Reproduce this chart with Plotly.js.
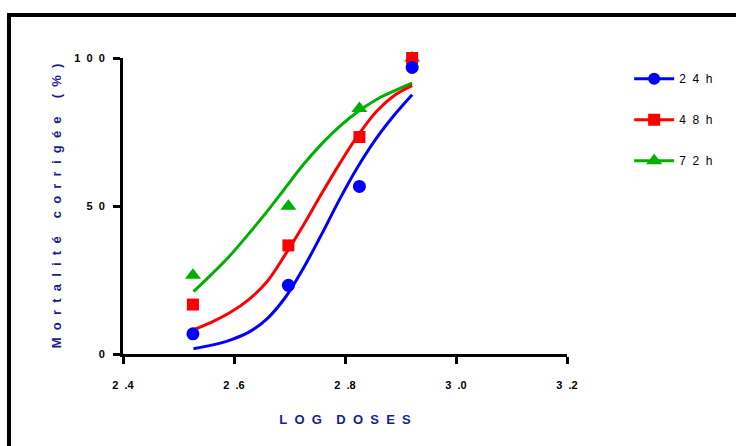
<!DOCTYPE html>
<html>
<head>
<meta charset="utf-8">
<script src="https://cdn.plot.ly/plotly-3.0.1.min.js"></script>
<style>
  html, body { margin: 0; padding: 0; background: #fff; }
  #wrap { position: relative; width: 736px; height: 446px; overflow: hidden; }
  #chart { position: absolute; left: 0; top: 0; width: 736px; height: 446px; }
  #frame { position: absolute; left: 7px; top: 13px; width: 760px; height: 460px;
           border-left: 4px solid #000; border-top: 4px solid #000; pointer-events: none; }
</style>
</head>
<body>
<div id="wrap">
  <div id="chart"></div>
  <div id="frame"></div>
</div>
<script>
// Observed points (log dose, corrected mortality %)
const logDoses = [2.526, 2.698, 2.826, 2.921];
const mort24 = [6.8, 23.2, 56.6, 96.8];
const mort48 = [16.7, 36.7, 73.3, 100];
const mort72 = [26.6, 49.9, 82.9, 100];

// Fitted curves
const curveX  = [2.527, 2.56, 2.593, 2.626, 2.659, 2.692, 2.725, 2.758, 2.791, 2.824, 2.857, 2.89, 2.921];
const curve24 = [1.8, 3.0, 4.7, 7.3, 11.8, 19.0, 29.0, 40.5, 52.5, 63.5, 73.0, 81.0, 87.6];
const curve48 = [8.2, 10.8, 14.0, 18.3, 24.3, 33.5, 43.5, 54.2, 64.5, 74.0, 82.0, 87.5, 90.7];
const curve72 = [21.1, 27.0, 33.3, 40.5, 48.0, 56.0, 64.0, 71.0, 77.0, 82.0, 86.0, 89.0, 91.5];

const seriesNames = ['2\u00A0\u00A04\u00A0\u00A0h', '4\u00A0\u00A08\u00A0\u00A0h', '7\u00A0\u00A02\u00A0\u00A0h'];
const xTickVals = [2.4, 2.6, 2.8, 3.0, 3.2];
const xTickText = ['2\u00A0\u00A0.4', '2\u00A0\u00A0.6', '2\u00A0\u00A0.8', '3\u00A0\u00A0.0', '3\u00A0\u00A0.2'];
const yTickVals = [0, 50, 100];
const yTickText = ['0', '5\u00A0\u00A00', '1\u00A0\u00A00\u00A0\u00A00'];

const colors = {c24: '#0000ff', c48: '#ff0000', c72: '#00b000'};

// letter-spaced text: letters separated by 2 NBSP, words by extra NBSPs
function spaced(s, wordGap) {
  return s.split(' ').map(w => w.split('').join('\u00A0\u00A0')).join('\u00A0'.repeat(wordGap));
}

const FONT = 'Liberation Sans, Arial, sans-serif';

const traces = [
  {x: curveX, y: curve72, mode: 'lines', line: {color: colors.c72, width: 3, shape: 'spline', smoothing: 1}, showlegend: false, hoverinfo: 'skip'},
  {x: curveX, y: curve48, mode: 'lines', line: {color: colors.c48, width: 3, shape: 'spline', smoothing: 1}, showlegend: false, hoverinfo: 'skip'},
  {x: curveX, y: curve24, mode: 'lines', line: {color: colors.c24, width: 3, shape: 'spline', smoothing: 1}, showlegend: false, hoverinfo: 'skip'},
  {x: logDoses, y: mort72, mode: 'markers', showlegend: false,
   marker: {symbol: 'triangle-up', size: 14, color: colors.c72}, cliponaxis: false},
  {x: logDoses, y: mort48, mode: 'markers', showlegend: false,
   marker: {symbol: 'square', size: 12, color: colors.c48}, cliponaxis: false},
  {x: logDoses, y: mort24, mode: 'markers', showlegend: false,
   marker: {symbol: 'circle', size: 13, color: colors.c24}, cliponaxis: false},
  // legend entries (line + marker)
  {x: [null], y: [null], name: seriesNames[0], mode: 'lines+markers', legendgroup: 'g24',
   marker: {symbol: 'circle', size: 12, color: colors.c24}, line: {color: colors.c24, width: 3}},
  {x: [null], y: [null], name: seriesNames[1], mode: 'lines+markers', legendgroup: 'g48',
   marker: {symbol: 'square', size: 12, color: colors.c48}, line: {color: colors.c48, width: 3}},
  {x: [null], y: [null], name: seriesNames[2], mode: 'lines+markers', legendgroup: 'g72',
   marker: {symbol: 'triangle-up', size: 14, color: colors.c72}, line: {color: colors.c72, width: 3}}
];

const titleColor = '#1c1c8c';

const layout = {
  width: 736, height: 446,
  margin: {l: 123, r: 169, t: 58, b: 92},
  paper_bgcolor: '#fff', plot_bgcolor: '#fff',
  font: {family: FONT, color: '#000'},
  showlegend: true,
  legend: {
    x: 1.14, xanchor: 'left', y: 0.979, yanchor: 'top',
    traceorder: 'grouped', tracegroupgap: 22,
    font: {size: 12, color: '#000'}, itemwidth: 40, bgcolor: 'rgba(0,0,0,0)'
  },
  xaxis: {
    range: [2.4, 3.2], tickvals: xTickVals, ticktext: xTickText,
    showgrid: false, zeroline: false, showline: true, linecolor: '#000', linewidth: 3,
    ticks: 'outside', ticklen: 7, tickwidth: 3, tickcolor: '#000',
    ticklabelstandoff: 12,
    tickfont: {size: 11, color: '#000', family: FONT, weight: 'bold'},
    title: {text: spaced('LOG DOSES', 4), standoff: 25,
            font: {size: 13, color: titleColor, family: FONT, weight: 'bold'}}
  },
  yaxis: {
    range: [0, 100], tickvals: yTickVals, ticktext: yTickText,
    showgrid: false, zeroline: false, showline: true, linecolor: '#000', linewidth: 3,
    ticks: 'outside', ticklen: 7, tickwidth: 3, tickcolor: '#000',
    ticklabelstandoff: 6,
    tickfont: {size: 11, color: '#000', family: FONT, weight: 'bold'},
    title: {text: spaced('Mortalité corrigée (%)', 5), standoff: 10,
            font: {size: 13, color: titleColor, family: FONT, weight: 'bold'}}
  }
};

Plotly.newPlot('chart', traces, layout, {staticPlot: true, displayModeBar: false});
</script>
</body>
</html>
